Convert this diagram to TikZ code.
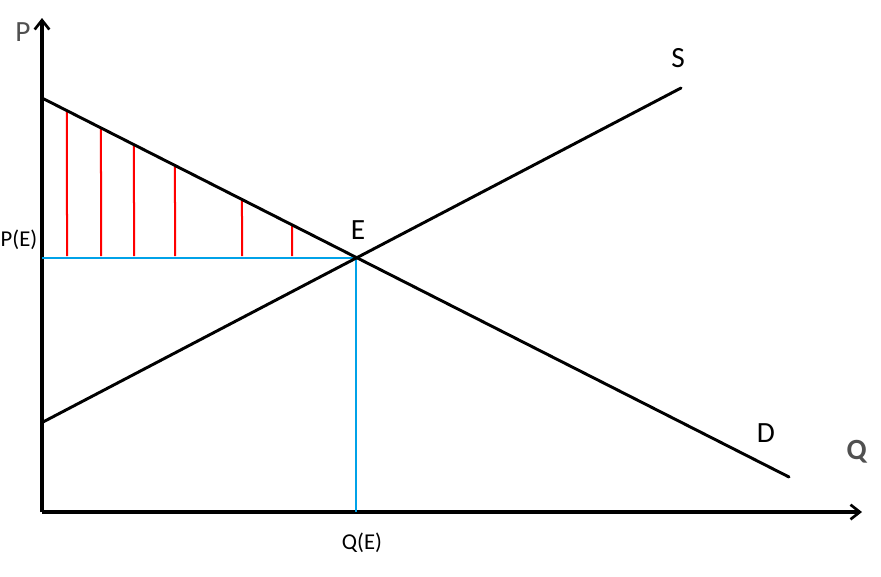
\documentclass[tikz,border=0pt]{standalone}
\usepackage{fontspec}
\setmainfont{Carlito}
\usetikzlibrary{arrows.meta, calc, positioning}
\definecolor{axisblue}{RGB}{0, 162, 232}
\definecolor{shadered}{RGB}{255, 0, 0}
\definecolor{labelgray}{RGB}{80, 80, 80}

\begin{document}
\begin{tikzpicture}[
  x=0.75pt, y=-0.75pt,
  axis/.style={line width=2.3pt, -{Straight Barb[length=7pt, width=11pt, line width=2pt]}},
  curve/.style={line width=2.2pt, line cap=round},
  guide/.style={draw=axisblue, line width=1.1pt},
  hatch/.style={draw=shadered, line width=1.5pt},
  lbl/.style={inner sep=0pt, font=\fontsize{22}{26}\selectfont},
  smalllbl/.style={inner sep=0pt, font=\fontsize{17}{20}\selectfont}
]
  \useasboundingbox (0,0) rectangle (881,576);

  % axes
  \coordinate (O) at (42,512);
  \coordinate (ytop) at (42,18);
  \coordinate (xend) at (862,512);
  \draw[axis] (O) -- (ytop);
  \draw[axis] (O) -- (xend);

  % demand and supply
  \coordinate (dstart) at (42,98);
  \coordinate (dend) at (789,477);
  \coordinate (sstart) at (43,422);
  \coordinate (send) at (681,88);
  \coordinate (E) at (356,258);

  % red hatching under demand
  \foreach \x in {67,101,134,175,242,292}
    \draw[hatch] (\x,256) -- ($(dstart)!{(\x-42)/747}!(dend)$);

  % equilibrium guides
  \draw[guide] (O |- E) -- (E);
  \draw[guide] (E) -- (E |- O);

  \draw[curve] (dstart) -- (dend);
  \draw[curve] (sstart) -- (send);

  % labels
  \node[lbl, text=labelgray] (plab) at (23,32) {P};
  \node[lbl, text=labelgray] (qlab) at (857,452) {\textbf{Q}};
  \node[smalllbl] (pe) at (19,240) {P(E)};
  \node[smalllbl] (qe) at (362,543) {Q(E)};
  \node[lbl] (elab) at (358,230) {E};
  \node[lbl] (slab) at (678,58) {S};
  \node[lbl] (dlab) at (766,433) {D};
\end{tikzpicture}
\end{document}
